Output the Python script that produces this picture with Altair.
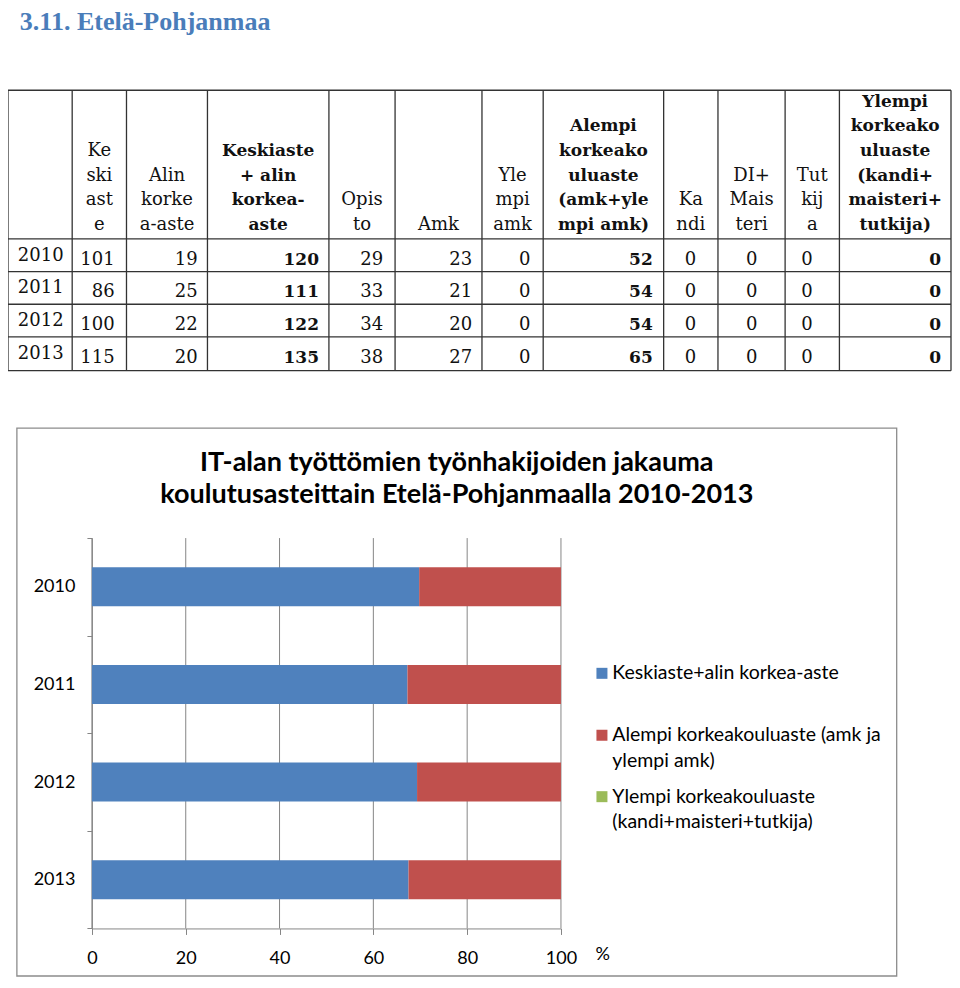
import altair as alt
import pandas as pd

# ---------------- data ----------------
years = ["2010", "2011", "2012", "2013"]
keskiaste = [101, 86, 100, 115]
alin_korkea_aste = [19, 25, 22, 20]
keskiaste_alin_korkea = [120, 111, 122, 135]
opisto = [29, 33, 34, 38]
amk = [23, 21, 20, 27]
ylempi_amk = [0, 0, 0, 0]
alempi_korkeakoulu = [52, 54, 54, 65]
kandi = [0, 0, 0, 0]
di_maisteri = [0, 0, 0, 0]
tutkija = [0, 0, 0, 0]
ylempi_korkeakoulu = [0, 0, 0, 0]

heading = "3.11. Etelä-Pohjanmaa"
header_lines = [
    [],
    ["Ke", "ski", "ast", "e"],
    ["Alin", "korke", "a-aste"],
    ["Keskiaste", "+ alin", "korkea-", "aste"],
    ["Opis", "to"],
    ["Amk"],
    ["Yle", "mpi", "amk"],
    ["Alempi", "korkeako", "uluaste", "(amk+yle", "mpi amk)"],
    ["Ka", "ndi"],
    ["DI+", "Mais", "teri"],
    ["Tut", "kij", "a"],
    ["Ylempi", "korkeako", "uluaste", "(kandi+", "maisteri+", "tutkija)"],
]
bold_columns = [3, 7, 11]

chart_title = ["IT-alan työttömien työnhakijoiden jakauma",
               "koulutusasteittain Etelä-Pohjanmaalla 2010-2013"]
series_names = ["Keskiaste+alin korkea-aste",
                "Alempi korkeakouluaste (amk ja ylempi amk)",
                "Ylempi korkeakouluaste (kandi+maisteri+tutkija)"]
legend_lines = [["Keskiaste+alin korkea-aste"],
                ["Alempi korkeakouluaste (amk ja", "ylempi amk)"],
                ["Ylempi korkeakouluaste", "(kandi+maisteri+tutkija)"]]
series_colors = ["#4F81BD", "#C0504D", "#9BBB59"]
x_ticks = [0, 20, 40, 60, 80, 100]
unit_label = "%"

# ---------------- layout ----------------
W, H = 944, 970


def sx(v):
    # reference x -> svg x (fit the 3..958 span into the page width)
    return (v - 3) * (W - 1) / 955.0


def sy(v):
    # reference y -> svg y (slight compression so the page keeps its height)
    return (v - 6) * (H - 1) / 978.0


col_edges = [3, 68, 123, 205, 328, 395, 483, 545, 667, 722, 790, 845, 958]
row_edges = [89, 239, 272, 305, 338, 372]
value_right = [111, 195, 318, 383, 473, 532, 656, 700, 762, 818, 948]
header_last_y = 225
header_step = 24.9

SERIF = "DejaVu Serif"
SANS = "Lato"
GRAY = "#868686"

IX = dict(scale=None, axis=None)


def ident(xf="x", yf="y"):
    return dict(x=alt.X(f"{xf}:Q", **IX), y=alt.Y(f"{yf}:Q", **IX))


layers = []

# heading
head_df = pd.DataFrame({"x": [sx(15)], "y": [13.5], "t": [heading]})
layers.append(alt.Chart(head_df).mark_text(
    font="Liberation Serif", fontWeight="bold", fontSize=26, color="#4A7DBA",
    align="left", baseline="middle").encode(text="t:N", **ident()))

# table grid
vl = pd.DataFrame({"x": [sx(e) for e in col_edges],
                   "y": [sy(row_edges[0])] * len(col_edges),
                   "y2": [sy(row_edges[-1])] * len(col_edges)})
layers.append(alt.Chart(vl).mark_rule(color="#333333", strokeWidth=1.3).encode(
    y2=alt.Y2("y2:Q"), **ident()))
hl = pd.DataFrame({"x": [sx(col_edges[0])] * len(row_edges),
                   "x2": [sx(col_edges[-1])] * len(row_edges),
                   "y": [sy(r) for r in row_edges]})
layers.append(alt.Chart(hl).mark_rule(color="#333333", strokeWidth=1.3).encode(
    x2=alt.X2("x2:Q"), **ident()))

# header text
hdr = []
for c, lines in enumerate(header_lines):
    n = len(lines)
    cx = (col_edges[c] + col_edges[c + 1]) / 2
    for i, s in enumerate(lines):
        hdr.append({"x": sx(cx), "y": sy(header_last_y - (n - 1 - i) * header_step),
                    "t": s, "b": c in bold_columns})
hdr = pd.DataFrame(hdr)
layers.append(alt.Chart(hdr[~hdr.b]).mark_text(
    font=SERIF, fontSize=18, color="#111111", align="center", baseline="middle").encode(
    text="t:N", **ident()))
layers.append(alt.Chart(hdr[hdr.b]).mark_text(
    font=SERIF, fontSize=17, fontWeight="bold", color="#111111", align="center",
    baseline="middle").encode(text="t:N", **ident()))

# table values
columns_values = [keskiaste, alin_korkea_aste, keskiaste_alin_korkea, opisto, amk,
                  ylempi_amk, alempi_korkeakoulu, kandi, di_maisteri, tutkija,
                  ylempi_korkeakoulu]
vals = []
for j, colv in enumerate(columns_values):
    for i, v in enumerate(colv):
        vals.append({"x": sx(value_right[j]), "y": sy(row_edges[1 + i] + 21),
                     "t": str(v), "b": (j + 1) in bold_columns})
vals = pd.DataFrame(vals)
layers.append(alt.Chart(vals[~vals.b]).mark_text(
    font=SERIF, fontSize=18, color="#111111", align="right", baseline="middle").encode(
    text="t:N", **ident()))
layers.append(alt.Chart(vals[vals.b]).mark_text(
    font=SERIF, fontSize=17, fontWeight="bold", color="#111111", align="right",
    baseline="middle").encode(text="t:N", **ident()))
yr = pd.DataFrame({"x": [sx(13)] * 4, "y": [sy(row_edges[1 + i] + 17) for i in range(4)],
                   "t": years})
layers.append(alt.Chart(yr).mark_text(
    font=SERIF, fontSize=18, color="#111111", align="left", baseline="middle").encode(
    text="t:N", **ident()))

# chart box
box = pd.DataFrame({"x": [sx(12)], "x2": [sx(903)], "y": [sy(430)], "y2": [sy(983)]})
layers.append(alt.Chart(box).mark_rect(fillOpacity=0, stroke="#8C8C8C", strokeWidth=1.3).encode(
    x2=alt.X2("x2:Q"), y2=alt.Y2("y2:Q"), **ident()))

# chart title
tt = pd.DataFrame({"x": [sx(457.5)] * 2, "y": [sy(465), sy(498)], "t": chart_title})
layers.append(alt.Chart(tt).mark_text(
    font=SANS, fontWeight="bold", fontSize=27, color="#000000", align="center",
    baseline="middle").encode(text="t:N", **ident()))

# bars with their own scales and axes
xscale = alt.Scale(domain=[0, 1], range=[sx(88), sx(563)], nice=False)
yscale = alt.Scale(domain=years, range=[sy(541), sy(935)], paddingInner=0, paddingOuter=0)
cscale = alt.Scale(domain=series_names, range=series_colors)


def x_axis():
    return alt.Axis(values=[t / 100 for t in x_ticks], labelExpr="format(datum.value*100,'d')",
                    orient="bottom", offset=sy(935) - H, grid=False, title=None,
                    domainColor=GRAY, tickColor=GRAY, tickSize=6, labelFont=SANS,
                    labelFontSize=18, labelColor="#000000", labelPadding=15,
                    labelFlush=False, labelOverlap=False)


grid_df = pd.DataFrame({"t": [t / 100 for t in x_ticks]})
layers.append(alt.Chart(grid_df).mark_rule(color=GRAY, strokeWidth=1).encode(
    x=alt.X("t:Q", scale=xscale, axis=x_axis()),
    y=alt.value(sy(541)), y2=alt.value(sy(935))))

bar_df = pd.DataFrame({
    "year": years * 3,
    "series": [s for s in series_names for _ in years],
    "count": keskiaste_alin_korkea + alempi_korkeakoulu + ylempi_korkeakoulu,
    "ord": [k for k in range(3) for _ in years],
})
layers.append(alt.Chart(bar_df).mark_bar(size=39).encode(
    x=alt.X("count:Q", stack="normalize", scale=xscale, axis=x_axis()),
    y=alt.Y("year:N", scale=yscale, sort=years,
            axis=alt.Axis(orient="left", offset=-sx(88), tickBand="extent", tickSize=5,
                          domainColor=GRAY, tickColor=GRAY, grid=False, title=None,
                          labelFont=SANS, labelFontSize=18, labelColor="#000000",
                          labelPadding=12)),
    color=alt.Color("series:N", scale=cscale, legend=None),
    order=alt.Order("ord:Q"),
))

# % unit label
pct = pd.DataFrame({"x": [sx(598)], "y": [sy(962)], "t": [unit_label]})
layers.append(alt.Chart(pct).mark_text(
    font=SANS, fontSize=18, color="#000000", align="left", baseline="middle").encode(
    text="t:N", **ident()))

# legend (symbols through the same colour scale)
leg_sym_y = [677.5, 740, 802]
leg_df = pd.DataFrame({"x": [sx(604.5)] * 3, "y": [sy(v) for v in leg_sym_y],
                       "series": series_names})
layers.append(alt.Chart(leg_df).mark_square(size=121, opacity=1).encode(
    color=alt.Color("series:N", scale=cscale, legend=None), **ident()))
lt = []
for k, lines in enumerate(legend_lines):
    for i, s in enumerate(lines):
        lt.append({"x": sx(615), "y": sy(leg_sym_y[k] + i * 25.5), "t": s})
lt = pd.DataFrame(lt)
layers.append(alt.Chart(lt).mark_text(
    font=SANS, fontSize=19.5, color="#000000", align="left", baseline="middle").encode(
    text="t:N", **ident()))

chart = alt.layer(*layers).properties(
    width=W, height=H, autosize=alt.AutoSizeParams(type="none"), padding=0
).configure_view(stroke=None)

chart.save("out.html", embed_options={"renderer": "svg", "actions": False})
